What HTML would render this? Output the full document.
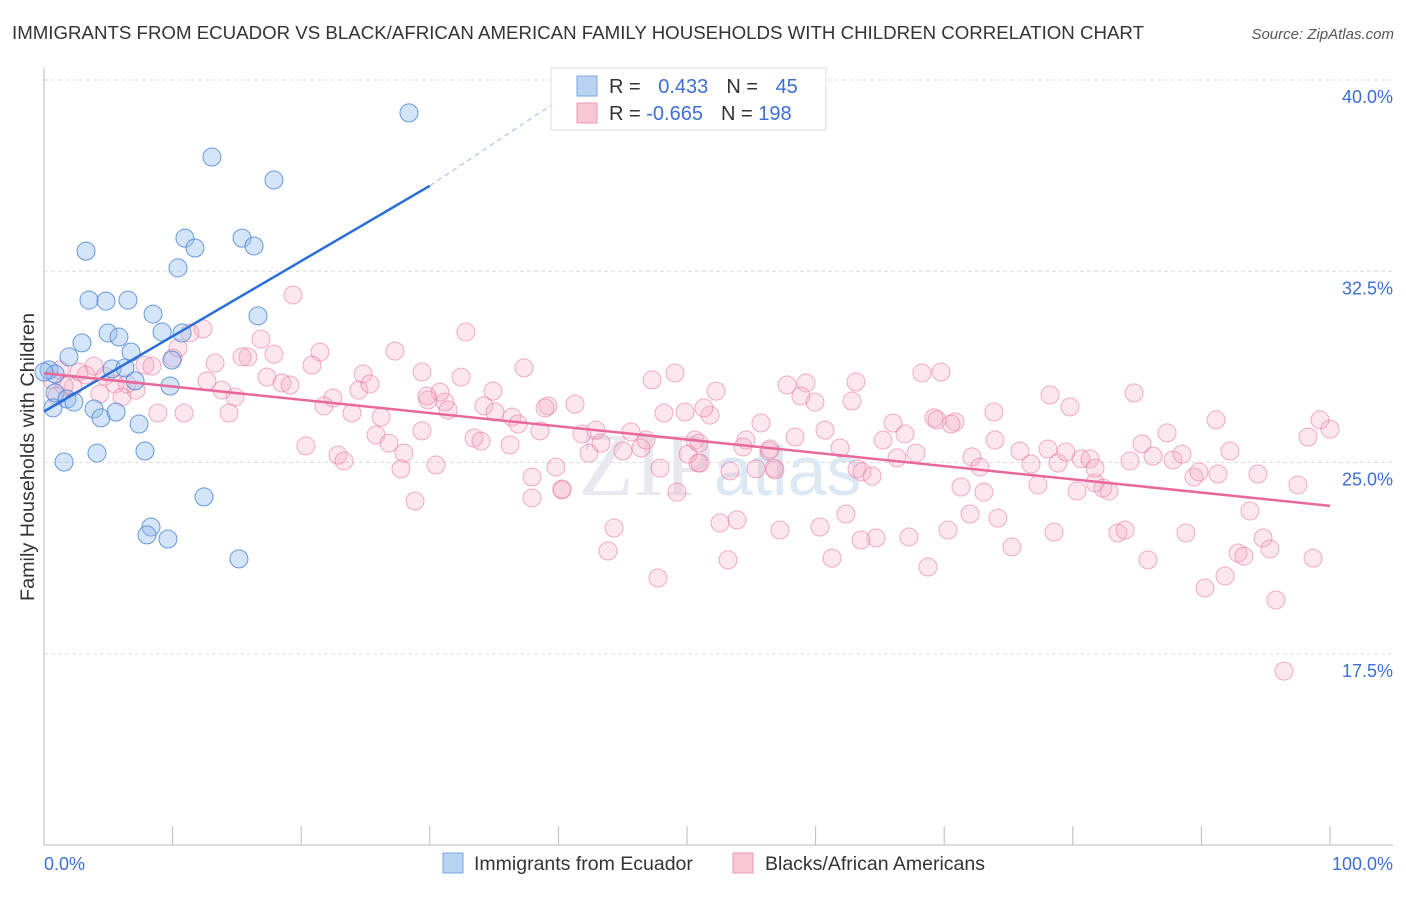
<!DOCTYPE html>
<html><head><meta charset="utf-8"><style>
body{margin:0;background:#fff;font-family:"Liberation Sans",sans-serif;}
</style></head><body>
<svg width="1406" height="892" viewBox="0 0 1406 892" xmlns="http://www.w3.org/2000/svg">
<text x="12" y="39" font-size="18" fill="#333" textLength="1132" lengthAdjust="spacingAndGlyphs">IMMIGRANTS FROM ECUADOR VS BLACK/AFRICAN AMERICAN FAMILY HOUSEHOLDS WITH CHILDREN CORRELATION CHART</text>
<text x="1394" y="39" font-size="15" fill="#555" font-style="italic" text-anchor="end">Source: ZipAtlas.com</text>
<g id="grid"></g>
<text x="720" y="495" font-size="90" fill="#e8e8ee" text-anchor="middle" font-family="Liberation Serif,serif">ZIP<tspan fill="#dde8f5" font-family="Liberation Sans,sans-serif" font-size="70">atlas</tspan></text>
<line x1="44" y1="68" x2="44" y2="845" stroke="#bbb"/>
<line x1="44" y1="845" x2="1393" y2="845" stroke="#bbb"/>
<g id="pts"></g>
<g id="lines"></g>
<text x="34" y="457" font-size="19" fill="#333" text-anchor="middle" textLength="288" lengthAdjust="spacingAndGlyphs" transform="rotate(-90 34 457)">Family Households with Children</text>
<text x="44" y="870" font-size="18" fill="#3b6fd4">0.0%</text>
<text x="1393" y="870" font-size="18" fill="#3b6fd4" text-anchor="end">100.0%</text>
<g>
<rect x="551" y="68" width="275" height="62" fill="#fff" stroke="#ddd"/>
<rect x="577" y="76" width="20" height="20" fill="#b9d3f3" stroke="#7aa6e0"/>
<rect x="577" y="103" width="20" height="20" fill="#f8c6d5" stroke="#eb9ab4"/>
<text x="609" y="93" font-size="20" fill="#333">R = <tspan fill="#3b6fd4" dx="12">0.433</tspan><tspan dx="18" fill="#333">N = </tspan><tspan dx="12" fill="#3b6fd4">45</tspan></text>
<text x="609" y="120" font-size="20" fill="#333">R = <tspan fill="#3b6fd4">-0.665</tspan><tspan dx="18" fill="#333">N = </tspan><tspan fill="#3b6fd4">198</tspan></text>
</g>
<g>
<rect x="443" y="853" width="20" height="20" fill="#b9d3f3" stroke="#7aa6e0"/>
<text x="474" y="870" font-size="19.5" fill="#333">Immigrants from Ecuador</text>
<rect x="733" y="853" width="20" height="20" fill="#f8c6d5" stroke="#eb9ab4"/>
<text x="765" y="870" font-size="19.5" fill="#333">Blacks/African Americans</text>
</g>
</svg>
<script>
const yTicks=[40,32.5,25,17.5];
const yTickLabels=["40.0%","32.5%","25.0%","17.5%"];
const xTicks=[0,10,20,30,40,50,60,70,80,90,100];
const bluePx=[[409,113],[212,157],[274,180],[86,251],[185,238],[195,248],[242,238],[254,246],[178,268],[89,300],[106,301],[128,300],[153,314],[258,316],[162,332],[182,333],[108,333],[119,337],[82,343],[69,357],[131,352],[172,360],[112,369],[125,368],[49,370],[55,374],[135,381],[170,386],[55,393],[67,399],[74,402],[94,409],[101,418],[116,412],[139,424],[53,408],[97,453],[64,462],[145,451],[204,497],[151,527],[147,535],[168,539],[239,559],[44,372]];
const pinkPx=[[293,295],[466,332],[203,329],[190,333],[261,339],[395,351],[320,352],[524,368],[248,357],[274,354],[242,357],[215,363],[173,358],[145,365],[94,366],[60,370],[79,372],[86,375],[105,376],[152,366],[178,348],[312,365],[363,374],[461,377],[422,372],[652,380],[675,373],[716,391],[787,385],[806,383],[856,382],[922,373],[941,372],[1050,395],[1134,393],[1070,407],[994,412],[934,418],[955,422],[893,423],[852,401],[815,402],[801,396],[761,423],[710,415],[704,408],[685,412],[664,413],[548,406],[575,404],[484,406],[495,412],[512,417],[545,408],[445,402],[440,392],[428,400],[448,410],[493,391],[427,396],[359,390],[370,384],[333,398],[352,413],[381,417],[324,406],[282,383],[267,377],[290,385],[235,397],[222,390],[207,381],[136,390],[127,384],[115,384],[100,394],[73,387],[64,386],[52,380],[57,396],[122,397],[158,413],[184,413],[229,413],[306,446],[338,455],[344,461],[376,435],[389,443],[404,453],[401,469],[422,431],[436,465],[474,438],[481,441],[510,445],[518,424],[540,431],[532,477],[556,467],[562,489],[582,434],[589,453],[596,430],[601,443],[623,451],[631,432],[641,448],[646,440],[695,440],[698,463],[688,454],[730,471],[746,440],[743,447],[756,469],[769,451],[774,468],[795,437],[825,430],[840,448],[857,469],[862,472],[872,476],[883,440],[897,458],[905,434],[916,453],[937,420],[951,424],[972,457],[980,467],[995,440],[1020,451],[1031,464],[1038,485],[1048,449],[1058,463],[1066,452],[1077,491],[1081,459],[1090,459],[1095,483],[1103,488],[1109,491],[1130,461],[1142,444],[1153,456],[1167,433],[1173,460],[1182,454],[1194,477],[1199,472],[1216,420],[1218,474],[1230,451],[1258,474],[1308,437],[1320,420],[1330,429],[1298,485],[1250,511],[1263,538],[1270,549],[1238,553],[1244,556],[1313,558],[1205,588],[1225,576],[1276,600],[1284,671],[1148,560],[1118,533],[1125,530],[1186,533],[1012,547],[1054,532],[1095,468],[961,487],[984,492],[998,518],[970,514],[948,530],[909,537],[928,567],[876,538],[861,540],[846,514],[832,558],[820,527],[780,530],[737,520],[720,523],[700,463],[658,578],[614,528],[608,551],[677,492],[562,490],[532,498],[415,501],[728,560],[660,468],[699,443],[770,449],[775,470]];
const sx=v=>44+v*12.86, sy=v=>845-(v-10)*25.5;
const ix=p=>(p-44)/12.86, iy=p=>10+(845-p)/25.5;
const blueX=bluePx.map(p=>+ix(p[0]).toFixed(2)), blueY=bluePx.map(p=>+iy(p[1]).toFixed(2));
const pinkX=pinkPx.map(p=>+ix(p[0]).toFixed(2)), pinkY=pinkPx.map(p=>+iy(p[1]).toFixed(2));
const blueTrend=[[0,27.0],[30,35.85],[40,39.2]];
const pinkTrend=[[0,28.5],[100,23.3]];
const NS="http://www.w3.org/2000/svg";
function mk(t,a,parent){const e=document.createElementNS(NS,t);for(const k in a)e.setAttribute(k,a[k]);parent.appendChild(e);return e;}
const grid=document.getElementById('grid');
yTicks.forEach((v,i)=>{
 const l=mk('line',{x1:44,x2:1393,y1:sy(v),y2:sy(v),stroke:'#ddd','stroke-dasharray':'4,3'},grid);
 
 
 const t=mk('text',{x:1393,y:sy(v)+23,'font-size':18,fill:'#3b6fd4','text-anchor':'end'},grid);
 t.textContent=yTickLabels[i];
 
 
});
xTicks.forEach(v=>{
 const l=mk('line',{x1:sx(v),x2:sx(v),y1:826,y2:845,stroke:'#bbb'},grid);
 
 
});
const pts=document.getElementById('pts');
pinkX.forEach((x,i)=>{
 const c=mk('circle',{cx:sx(x),cy:sy(pinkY[i]),r:9,fill:'rgba(246,170,195,0.28)',stroke:'rgba(232,120,160,0.6)','stroke-width':1},pts);
 
 
});
blueX.forEach((x,i)=>{
 const c=mk('circle',{cx:sx(x),cy:sy(blueY[i]),r:9,fill:'rgba(150,190,240,0.4)',stroke:'rgba(70,130,215,0.8)','stroke-width':1},pts);
 
 
});
const lines=document.getElementById('lines');
let b1=mk('line',{x1:sx(blueTrend[0][0]),y1:sy(blueTrend[0][1]),x2:sx(blueTrend[1][0]),y2:sy(blueTrend[1][1]),stroke:'#2a6fd6','stroke-width':2.5},lines);


let b2=mk('line',{x1:sx(blueTrend[1][0]),y1:sy(blueTrend[1][1]),x2:sx(blueTrend[2][0]),y2:sy(blueTrend[2][1]),stroke:'#9bbbe8','stroke-width':1,'stroke-dasharray':'5,4'},lines);


let p1=mk('line',{x1:sx(pinkTrend[0][0]),y1:sy(pinkTrend[0][1]),x2:sx(pinkTrend[1][0]),y2:sy(pinkTrend[1][1]),stroke:'#e8689a','stroke-width':2.5},lines);


</script>
</body></html>
